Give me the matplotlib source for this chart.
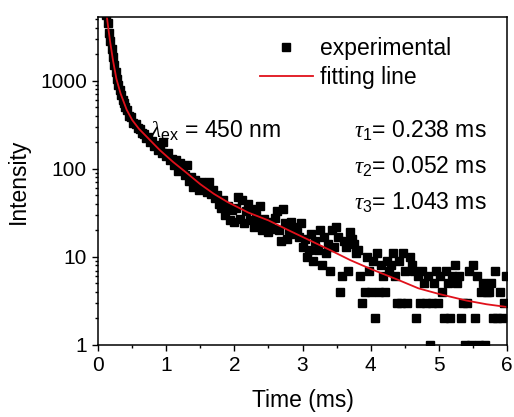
import matplotlib
matplotlib.use("Agg")
import matplotlib.pyplot as plt
from matplotlib.ticker import LogLocator, MultipleLocator, NullFormatter


# experimental decay points (time in ms, counts)
time_ms = [
    0.10, 0.12, 0.14, 0.16, 0.18, 0.20, 0.22, 0.24, 0.26, 0.28, 0.30, 0.32, 0.34, 0.36, 0.38, 0.40,
    0.43, 0.46, 0.49, 0.52, 0.55, 0.58, 0.61, 0.64, 0.67, 0.70, 0.73, 0.76, 0.79, 0.82, 0.85, 0.88,
    0.91, 0.94, 0.96, 1.00,
    1.03, 1.06, 1.09, 1.12, 1.15, 1.18, 1.21, 1.24, 1.27, 1.30, 1.33, 1.36, 1.39, 1.42, 1.45, 1.48,
    1.51, 1.54, 1.57, 1.60, 1.63, 1.66, 1.69, 1.72, 1.75, 1.78, 1.81, 1.84, 1.87, 1.90, 1.93, 1.96,
    1.99, 2.02, 2.05, 2.08, 2.11, 2.14, 2.17, 2.20, 2.23, 2.26, 2.29, 2.32, 2.35, 2.38, 2.41, 2.44,
    2.47, 2.50, 2.53, 2.56, 2.59, 2.62, 2.65, 2.68, 2.71, 2.74, 2.77, 2.80, 2.83, 2.86, 2.89, 2.92,
    2.95, 2.98, 3.01, 3.04, 3.07, 3.10, 3.13, 3.16, 3.19, 3.22, 3.25, 3.28, 3.31, 3.34, 3.37, 3.40,
    3.43, 3.46, 3.49, 3.52, 3.55, 3.58, 3.61, 3.64, 3.67, 3.70, 3.73, 3.76, 3.79, 3.82, 3.85, 3.88,
    3.91, 3.94, 3.97, 4.00, 4.03, 4.06, 4.09, 4.12, 4.15, 4.18, 4.21, 4.24, 4.27, 4.30, 4.33, 4.36,
    4.39, 4.42, 4.45, 4.48, 4.51, 4.54, 4.57, 4.60, 4.63, 4.66, 4.69, 4.72, 4.75, 4.78, 4.81, 4.84,
    4.87, 4.90, 4.93, 4.96, 4.99, 5.02, 5.05, 5.08, 5.11, 5.14, 5.17, 5.20, 5.23, 5.26, 5.29, 5.32,
    5.35, 5.38, 5.41, 5.44, 5.47, 5.50, 5.53, 5.56, 5.59, 5.62, 5.65, 5.68, 5.71, 5.74, 5.77, 5.80,
    5.83, 5.86, 5.89, 5.92, 5.95, 5.98,
]
counts = [
    7200, 5600, 4500, 3500, 2850, 2300, 1850, 1500, 1250, 1050, 900, 780, 690, 610, 560, 500,
    460, 400, 385, 330, 325, 290, 285, 255, 250, 225, 230, 200, 205, 180, 185, 165,
    170, 150, 200, 140,
    150, 125, 130, 110, 125, 95, 118, 100, 85, 110, 72, 80, 62, 75, 66, 58,
    70, 62, 68, 55, 70, 52, 58, 47, 50, 40, 36, 44, 30, 38, 26, 34,
    25, 36, 48, 27, 44, 24, 33, 40, 26, 35, 22, 30, 24, 38, 20, 27,
    23, 19, 25, 21, 28, 33, 20, 15, 35, 24, 16, 20, 25, 18, 22, 19,
    17, 24, 13, 16, 10, 12, 18, 9, 15, 12, 20, 8, 17, 11, 14, 7,
    20, 13, 22, 17, 4, 6, 15, 13, 7, 19, 16, 14, 11, 12, 6, 3,
    4, 10, 7, 4, 9, 2, 11, 4, 8, 6, 4, 9, 7, 8, 11, 6,
    3, 9, 3, 11, 7, 3, 10, 8, 7, 2, 6, 3, 7, 5, 3, 6,
    1, 3, 5, 7, 3, 6, 4, 2, 7, 5, 2, 6, 8, 5, 6, 2,
    3, 1, 3, 7, 1, 8, 2, 6, 1, 4, 5, 1, 4, 4, 5, 2,
    7, 2, 4, 2, 3, 6,
]

# fitted tri-exponential curve, sampled off the red line
fit_time_ms = [0.13, 0.15, 0.18, 0.22, 0.27, 0.33, 0.42, 0.50, 0.60, 0.73, 0.90, 1.10, 1.30, 1.50,
               1.70, 1.90, 2.20, 2.50, 2.80, 3.10, 3.40, 3.70, 4.00, 4.40, 4.70, 5.00, 5.40, 5.70, 6.00]
fit_counts = [5300, 4000, 2700, 1700, 1050, 720, 470, 360, 285, 225, 165, 120, 90, 67,
              52, 42, 32, 26, 20, 15.5, 12, 9.2, 7.3, 5.5, 4.4, 3.8, 3.2, 2.9, 2.7]

y_ticks = [1, 10, 100, 1000]
y_tick_labels = ["1", "10", "100", "1000"]
lifetimes = ["0.238", "0.052", "1.043"]

plt.rcParams["font.family"] = ["Liberation Sans", "DejaVu Sans"]
plt.rcParams["mathtext.fontset"] = "custom"
plt.rcParams["mathtext.rm"] = "Liberation Sans"
plt.rcParams["mathtext.it"] = "Liberation Serif:italic"

fig = plt.figure(figsize=(5.14, 4.17), dpi=100)
ax = fig.add_axes([0.1907, 0.1727, 0.7957, 0.7865])

ax.plot(time_ms, counts, linestyle="none", marker="s", markersize=5.6,
        color="black", label="experimental")
ax.plot(fit_time_ms, fit_counts, color="#e0101a", linewidth=1.3, label="fitting line")

ax.set_yscale("log")
ax.set_xlim(0, 6)
ax.set_ylim(1, 5300)

ax.set_yticks(y_ticks)
ax.set_yticklabels(y_tick_labels)
ax.yaxis.set_minor_locator(LogLocator(base=10, subs=range(2, 10)))
ax.yaxis.set_minor_formatter(NullFormatter())
ax.xaxis.set_major_locator(MultipleLocator(1))
ax.xaxis.set_minor_locator(MultipleLocator(0.5))

ax.tick_params(which="both", direction="out", labelsize=15, width=1)
ax.tick_params(which="major", length=4.5)
ax.tick_params(which="minor", length=2.5)
for spine in ax.spines.values():
    spine.set_linewidth(1.1)

ax.set_xlabel("Time (ms)", fontsize=16.5, labelpad=10)
ax.set_ylabel("Intensity", fontsize=16.5, labelpad=7)

ax.legend(loc="upper left", bbox_to_anchor=(0.396, 0.938), frameon=False, fontsize=16.5,
          handlelength=2.3, handletextpad=0.3, labelspacing=0.25, borderpad=0,
          borderaxespad=0, numpoints=1)

ax.text(0.127, 0.652, r"$\lambda_{\rm ex}$ = 450 nm", transform=ax.transAxes,
        fontsize=16.5, va="center", ha="left")
for i, tau in enumerate(lifetimes):
    ax.text(0.625, 0.652 - 0.11 * i, rf"$\tau_{{\rm {i + 1}}}$= {tau} ms",
            transform=ax.transAxes, fontsize=16.5, va="center", ha="left")

fig.savefig("out.png", dpi=100)
